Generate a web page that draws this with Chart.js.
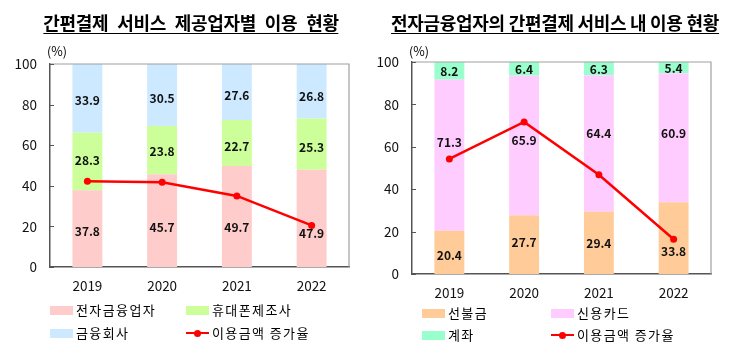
<!DOCTYPE html>
<html><head><meta charset="utf-8">
<script src="https://cdn.jsdelivr.net/npm/chart.js@4.4.1/dist/chart.umd.min.js"></script>
<style>
html,body{margin:0;padding:0;background:#fff;}
#wrap{position:relative;width:731px;height:357px;overflow:hidden;font-family:"Noto Sans CJK KR","Noto Sans",sans-serif;color:#000;}
canvas{position:absolute;top:0;}
.title{position:absolute;top:12px;font-weight:700;font-size:18px;line-height:21px;white-space:nowrap;border-bottom:1.6px solid #000;padding-bottom:0px;transform:translateX(-50%);letter-spacing:-0.3px;}
.unit{position:absolute;top:43px;font-size:12.5px;line-height:16px;}
.leg{position:absolute;font-size:13px;line-height:16px;letter-spacing:1.4px;white-space:nowrap;}
.sw{position:absolute;height:9px;}
.ln{position:absolute;height:2.5px;background:#f00;}
.dot{position:absolute;width:7px;height:7px;border-radius:50%;background:#f00;}
</style></head>
<body><div id="wrap">
<canvas id="c1" width="365" height="357" style="left:0"></canvas>
<canvas id="c2" width="366" height="357" style="left:365px"></canvas>
<div class="title" style="left:191px;word-spacing:5px">간편결제 서비스 제공업자별 이용 현황</div>
<div class="title" style="left:555px">전자금융업자의 간편결제 서비스 내 이용 현황</div>
<div class="unit" style="left:47px">(%)</div>
<div class="unit" style="left:409px">(%)</div>
<div id="legends"></div>
</div>
<script>
// ---- data ----
const years = ['2019','2020','2021','2022'];
const yTicks = [0,20,40,60,80,100];

// left chart: 간편결제 서비스 제공업자별 이용 현황
const leftNames = ['전자금융업자','휴대폰제조사','금융회사','이용금액 증가율'];
const efinCo   = [37.8, 45.7, 49.7, 47.9];
const phoneMfr = [28.3, 23.8, 22.7, 25.3];
const finCo    = [33.9, 30.5, 27.6, 26.8];
const leftGrowth = [42.2, 41.7, 35.0, 20.5];

// right chart: 전자금융업자의 간편결제 서비스 내 이용 현황
const rightNames = ['선불금','신용카드','계좌','이용금액 증가율'];
const prepaid = [20.4, 27.7, 29.4, 33.8];
const credit  = [71.3, 65.9, 64.4, 60.9];
const account = [8.2, 6.4, 6.3, 5.4];
const rightGrowth = [54.3, 71.7, 46.8, 16.4];

// label nudges (pixels, + = down) so the value labels clear the line, as in the original
const leftLabelNudge  = [[2,6,10,14],[-2,0,2,2],[1,2,2,4]];
const rightLabelNudge = [[2,-3,0,12],[-14,-6,-11,-5],[0,0,0,0]];

const FONT = '"Noto Sans CJK KR","Noto Sans",sans-serif';

const framePlugin = {
  id:'frame',
  afterDraw(chart){
    const {ctx, chartArea:a, scales:{y}} = chart;
    ctx.save();
    ctx.strokeStyle = '#a0a0a0'; ctx.lineWidth = 1.2;
    ctx.beginPath();
    ctx.moveTo(a.left, a.top); ctx.lineTo(a.right, a.top); ctx.lineTo(a.right, a.bottom);
    ctx.stroke();
    ctx.strokeStyle = '#555'; ctx.lineWidth = 1.2;
    ctx.beginPath();
    y.ticks.forEach(t=>{ const py = Math.round(y.getPixelForValue(t.value))+0.5; ctx.moveTo(a.left, py); ctx.lineTo(a.left+4, py); });
    ctx.stroke();
    ctx.restore();
  }
};

const labelPlugin = {
  id:'barLabels',
  afterDatasetsDraw(chart, args, opts){
    const ctx = chart.ctx;
    const nudge = opts.nudge || [];
    ctx.save();
    ctx.font = 'bold 12px ' + FONT;
    ctx.fillStyle = '#111';
    ctx.textAlign = 'center'; ctx.textBaseline = 'middle';
    chart.data.datasets.forEach((ds, i)=>{
      if (ds.type === 'line') return;
      const meta = chart.getDatasetMeta(i);
      meta.data.forEach((bar, j)=>{
        const p = bar.getProps(['x','y','base'], true);
        const n = (nudge[i] && nudge[i][j]) || 0;
        ctx.fillText(ds.data[j].toFixed(1), p.x, (p.y + p.base)/2 + 1 + n);
      });
    });
    ctx.restore();
  }
};

function makeChart(id, names, series, colors, growth, pad, nudge){
  const datasets = series.map((d,i)=>({
    type:'bar', label:names[i], data:d, backgroundColor:colors[i], stack:'share',
    barPercentage:0.4, categoryPercentage:1, order:2
  }));
  datasets.push({
    type:'line', label:names[3], data:growth, borderColor:'#ff0000', backgroundColor:'#ff0000',
    borderWidth:2.5, pointRadius:3.5, pointBackgroundColor:'#ff0000', pointBorderWidth:0,
    stack:'rate', tension:0, order:1
  });
  return new Chart(document.getElementById(id), {
    data:{labels:years, datasets},
    options:{
      responsive:false, animation:false, devicePixelRatio:1,
      layout:{padding:pad},
      plugins:{legend:{display:false}, tooltip:{enabled:false}, title:{display:false}, barLabels:{nudge}},
      scales:{
        x:{stacked:true, grid:{display:false, drawTicks:false},
           border:{display:true, color:'#555', width:1.5},
           ticks:{padding:11, color:'#111', font:{family:FONT, size:13.5}},
           afterFit(s){ s.height = 40; }},
        y:{stacked:true, min:0, max:100,
           afterBuildTicks(s){ s.ticks = yTicks.map(v=>({value:v})); },
           grid:{display:false, drawTicks:false},
           border:{display:true, color:'#555', width:1.5},
           ticks:{padding:13, color:'#111', font:{family:FONT, size:13.5}},
           afterFit(s){ s.width = pad.yw; }}
      }
    },
    plugins:[framePlugin, labelPlugin]
  });
}

const leftColors = ['#ffcccc','#ccff99','#cce9ff'];
const rightColors = ['#ffcc99','#ffccff','#99ffcc'];

makeChart('c1', leftNames, [efinCo, phoneMfr, finCo], leftColors, leftGrowth,
  {top:64, right:16, bottom:50, left:0, yw:50}, leftLabelNudge);
makeChart('c2', rightNames, [prepaid, credit, account], rightColors, rightGrowth,
  {top:62, right:20, bottom:43, left:0, yw:47}, rightLabelNudge);

// HTML legends built from the names/colors
function legend(x0, x1, y0, y1, names, colors){
  const L = document.getElementById('legends');
  const pos = [[x0,y0],[x1,y0],[x0,y1],[x1,y1]];
  names.forEach((n,i)=>{
    const [x,y] = pos[i];
    if (i < 3){
      const s = document.createElement('div'); s.className='sw';
      s.style.cssText = `left:${x}px;top:${y-4.5}px;width:23px;background:${colors[i]}`;
      L.appendChild(s);
    } else {
      const l = document.createElement('div'); l.className='ln';
      l.style.cssText = `left:${x}px;top:${y-1.25}px;width:23px;`;
      L.appendChild(l);
      const d = document.createElement('div'); d.className='dot';
      d.style.cssText = `left:${x+8}px;top:${y-3.5}px;`;
      L.appendChild(d);
    }
    const t = document.createElement('div'); t.className='leg';
    t.textContent = n; t.style.left = (x+26)+'px'; t.style.top = (y-8.5)+'px';
    L.appendChild(t);
  });
}
legend(50, 186, 310, 333, leftNames, leftColors);
legend(422, 551, 313, 335, rightNames, rightColors);
</script>
</body></html>
